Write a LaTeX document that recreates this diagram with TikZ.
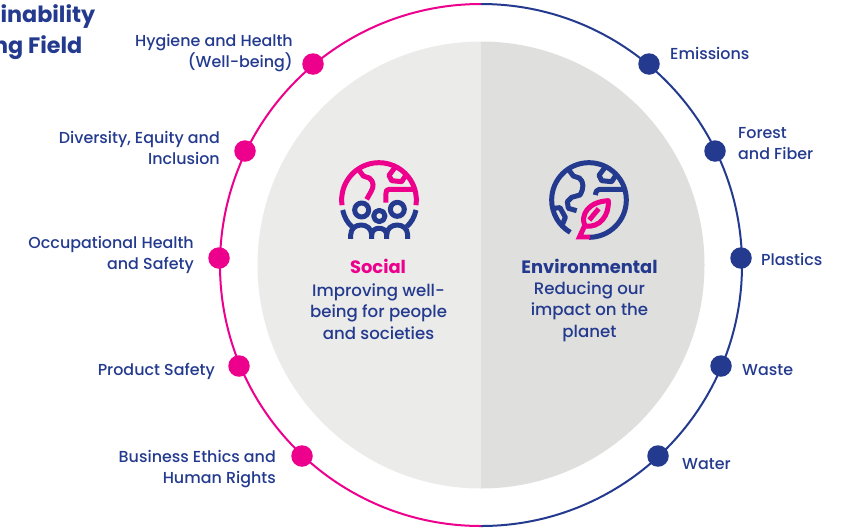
\documentclass[tikz,border=0pt]{standalone}
\usepackage{fontspec}
\setmainfont{Poppins Medium}[BoldFont=Poppins Bold]
\definecolor{pk}{HTML}{EC008C}
\definecolor{nv}{HTML}{233A8E}
\definecolor{gl}{HTML}{EBEBEA}
\definecolor{gr}{HTML}{DFDFDD}
\tikzset{
 dot/.style={circle,minimum size=21.5pt,inner sep=0pt},
 lab/.style={text=nv,font=\fontsize{15.9}{21}\selectfont,inner sep=0pt,align=right,anchor=east},
 labr/.style={text=nv,font=\fontsize{15.9}{21}\selectfont,inner sep=0pt,align=left,anchor=west},
 body/.style={text=nv,font=\fontsize{16.6}{21.6}\selectfont,inner sep=0pt,align=center},
 head/.style={font=\fontsize{17.9}{22}\selectfont\bfseries,inner sep=0pt},
 title/.style={text=nv,font=\fontsize{22.3}{26}\selectfont\bfseries,inner sep=0pt,anchor=east},
 ic/.style={line width=5pt,line cap=butt,line join=round},
}
\begin{document}
\begin{tikzpicture}[x=1pt,y=-1pt]
\useasboundingbox (0,0) rectangle (845,528);
% inner disc
\fill[gl] (481,41.5) arc[start angle=-90,end angle=-270,radius=223.5] -- cycle;
\fill[gr] (481,41.5) arc[start angle=-90,end angle=90,radius=223.5] -- cycle;
% ring
\draw[pk,line width=2pt] (481,4) arc[start angle=-90,end angle=-270,radius=261];
\draw[nv,line width=2pt] (481,4) arc[start angle=-90,end angle=90,radius=261];
% dots
\foreach \n/\x/\y in {a/313/64,b/245/151,c/219/258,d/239/366,e/302/456}
  \node[dot,fill=pk] (\n) at (\x,\y) {};
\foreach \n/\x/\y in {f/649/64,g/715/151,h/741/258,i/721/366,j/658/456}
  \node[dot,fill=nv] (\n) at (\x,\y) {};
% labels
\node[lab] (la) at (293,53) {Hygiene and Health\\(Well-being)};
\node[lab] (lb) at (220,147.5) {Diversity, Equity and\\Inclusion};
\node[lab] (lc) at (194,255) {Occupational Health\\and Safety};
\node[lab] (ld) at (215,371) {Product Safety};
\node[lab] (le) at (276,468.8) {Business Ethics and\\Human Rights};
\node[labr] (lf) at (670,53.5) {Emissions};
\node[labr] (lg) at (738,143.5) {Forest\\and Fiber};
\node[labr] (lh) at (761,259.5) {Plastics};
\node[labr] (li) at (742,370.5) {Waste};
\node[labr] (lj) at (682,464.5) {Water};
\node[title] (t1) at (95.5,17) {inability};
\node[title] (t2) at (82.5,47.5) {ng Field};
% centre text
\node[head,text=pk] (hs) at (378,266.5) {Social};
\node[head,text=nv] (he) at (589.5,266.5) {Environmental};
\node[body] (bs) at (378.5,311.5) {Improving well-\\being for people\\and societies};
\node[body] (be) at (589.5,311.5) {Reducing our\\impact on the\\planet};
% social icon
\begin{scope}[shift={(320,140)},x=0.3333pt,y=-0.3333pt,ic]
 \draw[pk] (177,180) ++(172:112) arc[start angle=172,end angle=368,radius=112];
 \draw[pk] (118,92) -- (130,108) -- (148,114) .. controls (162,125) and (162,140) .. (153,155) -- (140,178);
 \draw[pk] (225,82) -- (207,106) -- (215,122) -- (245,125) -- (260,102);
 \draw[pk] (287,148) -- (208,148) .. controls (200,148) and (198,152) .. (198,160) -- (198,188);
 \draw[nv] (68,210) .. controls (73,232) and (82,248) .. (96,260);
 \draw[nv] (288,210) .. controls (283,232) and (274,248) .. (260,260);
 \draw[nv] (125,210) circle[radius=21];
 \draw[nv] (178,228) circle[radius=17];
 \draw[nv] (232,208) circle[radius=21];
 \draw[nv] (92,297) -- (92,285) .. controls (92,245) and (155,245) .. (155,285) -- (155,297);
 \draw[nv] (155,285) .. controls (155,258) and (200,258) .. (200,285) -- (200,297);
 \draw[nv] (200,285) .. controls (200,245) and (263,245) .. (263,285) -- (263,297);
\end{scope}
% environmental icon
\begin{scope}[shift={(530,140)},x=0.3333pt,y=-0.3333pt,ic]
 \draw[nv] (177,180) ++(90:112) arc[start angle=90,end angle=-240,radius=112];
 \draw[nv] (118,92) -- (130,108) -- (148,114) .. controls (162,125) and (162,145) .. (150,165) -- (125,172) -- (112,185) -- (115,205) -- (140,212);
 \draw[nv] (225,82) -- (207,106) -- (215,122) -- (245,125) -- (260,102);
 \draw[nv] (287,148) -- (208,148) .. controls (200,148) and (198,155) .. (196,165);
 \draw[nv] (70,205) -- (90,203) -- (106,232) -- (98,252);
 \draw[pk] (165,258) .. controls (150,225) and (175,185) .. (235,182) .. controls (238,225) and (210,265) .. (165,258) -- cycle;
 \draw[pk] (178,240) -- (206,206);
 \fill[pk] (137,298) -- (158,252) -- (172,258) -- (160,284) -- (180,284) -- (180,298) -- cycle;
\end{scope}
\end{tikzpicture}
\end{document}
